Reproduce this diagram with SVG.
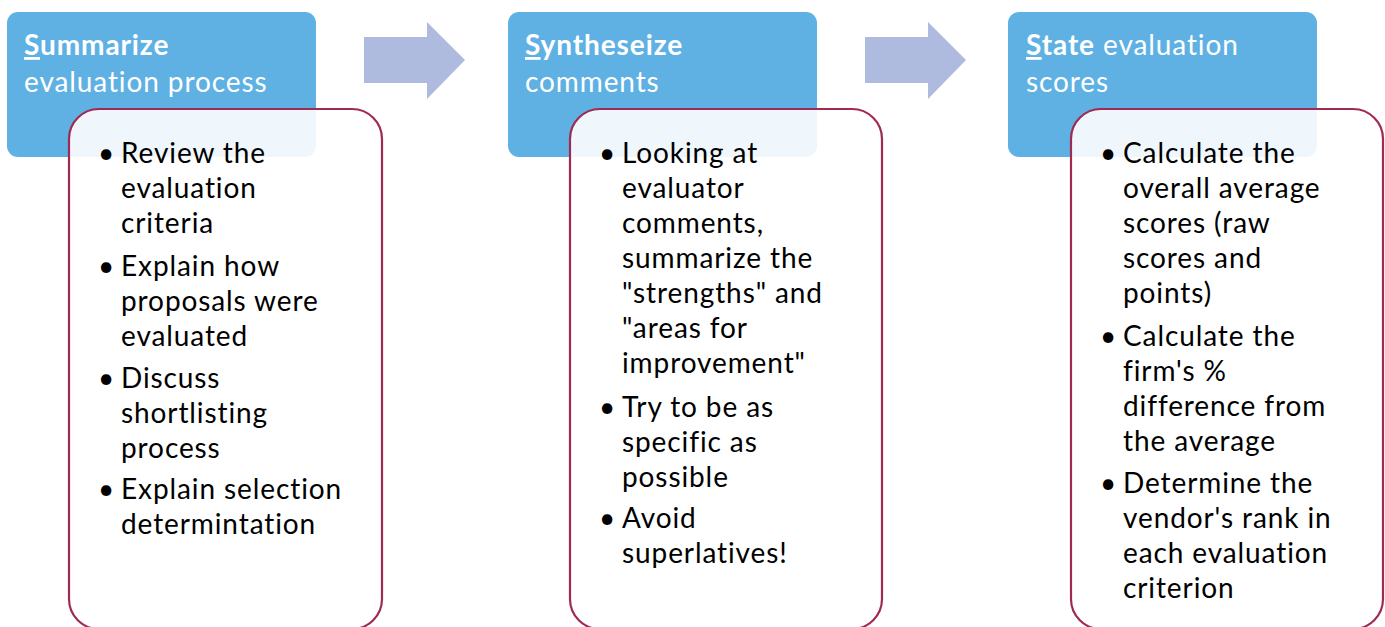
<svg xmlns="http://www.w3.org/2000/svg" width="1385" height="627" viewBox="0 0 1385 627">
<style>
.hdr{fill:#5fb1e4;}
.card{fill:#ffffff;fill-opacity:0.9;stroke:#9f2b52;stroke-width:2.2;}
.arr{fill:#aebbdf;}
.t{font-family:Lato,"Liberation Sans",sans-serif;font-size:28px;letter-spacing:0.9px;}
.ht{fill:#ffffff;}
.bt{fill:#000000;}
.b{font-weight:bold;}
.u{text-decoration:underline;}
</style>
<rect width="1385" height="627" fill="#ffffff"/>
<g id="connectors">
<polygon class="arr" points="364,37 427,37 427,22 465,60 427,99 427,83 364,83"/>
<polygon class="arr" points="865,37 928,37 928,22 966,60 928,99 928,83 865,83"/>
</g>
<g id="step1">
<rect class="hdr" x="7" y="12" width="309" height="145" rx="11"/>
<text class="t ht" x="24" y="55"><tspan class="b"><tspan class="u">S</tspan>ummarize</tspan></text>
<text class="t ht" x="24" y="92">evaluation process</text>
<rect class="card" x="69" y="109" width="313" height="520" rx="30"/>
<text class="t bt">
<tspan x="98" y="163">•</tspan><tspan x="121" y="163">Review the</tspan>
<tspan x="121" y="198">evaluation</tspan>
<tspan x="121" y="233">criteria</tspan>
<tspan x="98" y="276">•</tspan><tspan x="121" y="276">Explain how</tspan>
<tspan x="121" y="311">proposals were</tspan>
<tspan x="121" y="346">evaluated</tspan>
<tspan x="98" y="388">•</tspan><tspan x="121" y="388">Discuss</tspan>
<tspan x="121" y="423">shortlisting</tspan>
<tspan x="121" y="458">process</tspan>
<tspan x="98" y="499">•</tspan><tspan x="121" y="499">Explain selection</tspan>
<tspan x="121" y="534">determintation</tspan>
</text>
</g>
<g id="step2">
<rect class="hdr" x="508" y="12" width="309" height="145" rx="11"/>
<text class="t ht" x="525" y="55"><tspan class="b"><tspan class="u">S</tspan>yntheseize</tspan></text>
<text class="t ht" x="525" y="92">comments</text>
<rect class="card" x="570" y="109" width="312" height="520" rx="30"/>
<text class="t bt">
<tspan x="599" y="163">•</tspan><tspan x="622" y="163">Looking at</tspan>
<tspan x="622" y="198">evaluator</tspan>
<tspan x="622" y="233">comments,</tspan>
<tspan x="622" y="268">summarize the</tspan>
<tspan x="622" y="303">"strengths" and</tspan>
<tspan x="622" y="338">"areas for</tspan>
<tspan x="622" y="373">improvement"</tspan>
<tspan x="599" y="417">•</tspan><tspan x="622" y="417">Try to be as</tspan>
<tspan x="622" y="452">specific as</tspan>
<tspan x="622" y="487">possible</tspan>
<tspan x="599" y="528">•</tspan><tspan x="622" y="528">Avoid</tspan>
<tspan x="622" y="563">superlatives!</tspan>
</text>
</g>
<g id="step3">
<rect class="hdr" x="1008" y="12" width="309" height="145" rx="11"/>
<text class="t ht" x="1026" y="55"><tspan class="b"><tspan class="u">S</tspan>tate</tspan> evaluation</text>
<text class="t ht" x="1026" y="92">scores</text>
<rect class="card" x="1071" y="109" width="312" height="520" rx="30"/>
<text class="t bt">
<tspan x="1100" y="163">•</tspan><tspan x="1123" y="163">Calculate the</tspan>
<tspan x="1123" y="198">overall average</tspan>
<tspan x="1123" y="233">scores (raw</tspan>
<tspan x="1123" y="268">scores and</tspan>
<tspan x="1123" y="303">points)</tspan>
<tspan x="1100" y="346">•</tspan><tspan x="1123" y="346">Calculate the</tspan>
<tspan x="1123" y="381">firm's %</tspan>
<tspan x="1123" y="416">difference from</tspan>
<tspan x="1123" y="451">the average</tspan>
<tspan x="1100" y="493">•</tspan><tspan x="1123" y="493">Determine the</tspan>
<tspan x="1123" y="528">vendor's rank in</tspan>
<tspan x="1123" y="563">each evaluation</tspan>
<tspan x="1123" y="598">criterion</tspan>
</text>
</g>
</svg>
